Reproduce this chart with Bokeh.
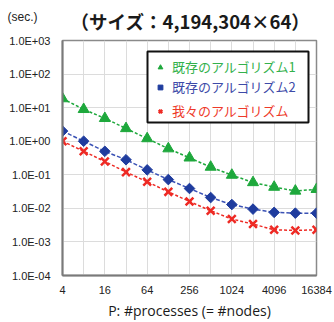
import numpy as np
from bokeh.plotting import figure
from bokeh.models import (FixedTicker, CustomJSTickFormatter, Legend, LegendItem,
                          Label, BoxAnnotation)
from bokeh.embed import file_html
from bokeh.resources import INLINE

# ---- data ----
procs = [4, 8, 16, 32, 64, 128, 256, 512, 1024, 2048, 4096, 8192, 16384]
algo1 = [18.6, 8.9, 4.8, 2.4, 1.2, 0.60, 0.32, 0.17, 0.098, 0.059, 0.043, 0.033, 0.037]
algo2 = [2.0, 1.0, 0.50, 0.28, 0.14, 0.072, 0.039, 0.021, 0.013, 0.0095, 0.0076, 0.0072, 0.0072]
ours = [1.0, 0.50, 0.25, 0.12, 0.062, 0.031, 0.016, 0.0085, 0.0048, 0.0034, 0.0023, 0.0022, 0.0023]
x_tick_values = [4, 16, 64, 256, 1024, 4096, 16384]
y_tick_values = [1e-4, 1e-3, 1e-2, 1e-1, 1, 10, 100, 1000]
series_labels = ["既存のアルゴリズム1", "既存のアルゴリズム2", "我々のアルゴリズム"]
title_text = "（サイズ：4,194,304×64）"
y_unit_text = "(sec.)"
x_title_text = "P: #processes (= #nodes)"

GREEN = "#1ea83c"
BLUE = "#1f3c9e"
BLUE_LINE = "#3b52b5"
RED = "#ee2a24"

p = figure(width=334, height=322, x_axis_type="log", y_axis_type="log",
           x_range=(4, 16384), y_range=(1e-4, 1e3),
           output_backend="svg", toolbar_location=None,
           min_border_left=62, min_border_right=18,
           min_border_top=40, min_border_bottom=47)

p.background_fill_color = "white"
p.border_fill_color = "white"
p.outline_line_color = "#8a8a8a"
p.outline_line_width = 1.5

# axes
p.xaxis.ticker = FixedTicker(ticks=x_tick_values, minor_ticks=[])
p.yaxis.ticker = FixedTicker(ticks=y_tick_values, minor_ticks=[])
p.xgrid.ticker = FixedTicker(ticks=procs, minor_ticks=[])
p.xaxis.formatter = CustomJSTickFormatter(code="return Math.round(tick).toString();")
p.yaxis.formatter = CustomJSTickFormatter(code="""
const e = Math.round(Math.log10(tick));
const s = e < 0 ? '-' : '+';
const a = Math.abs(e);
return '1.0E' + s + (a < 10 ? '0' : '') + a;
""")
for ax in (p.xaxis, p.yaxis):
    ax.major_tick_in = 0
    ax.major_tick_out = 0
    ax.minor_tick_in = 0
    ax.minor_tick_out = 0
    ax.axis_line_color = "#7a7a7a"
    ax.axis_line_width = 2
    ax.major_label_text_font = "Liberation Sans"
    ax.major_label_text_font_size = "11px"
    ax.major_label_text_color = "#222222"
p.yaxis.major_label_standoff = 12
p.xaxis.major_label_standoff = 10
p.xaxis.axis_label = x_title_text
p.xaxis.axis_label_standoff = 4
p.xaxis.axis_label_text_font = "Open Sans"
p.xaxis.axis_label_text_font_size = "14px"
p.xaxis.axis_label_text_font_style = "normal"
p.xaxis.axis_label_text_color = "#1a1a1a"

p.xgrid.grid_line_color = "#dcdcdc"
p.ygrid.grid_line_color = "#dcdcdc"
p.xgrid.grid_line_width = 1
p.ygrid.grid_line_width = 1

# series
p.line(procs, algo1, line_color=GREEN, line_dash="3 2", line_width=1.5)
r1 = p.scatter(procs, algo1, marker="triangle", size=11, color=GREEN)
p.line(procs, algo2, line_color=BLUE_LINE, line_dash="4 2", line_width=1.5)
r2 = p.scatter(procs, algo2, marker="square", angle=np.pi / 4, size=7.5, color=BLUE)
p.line(procs, ours, line_color=RED, line_dash="3 2", line_width=1.5)
r3 = p.scatter(procs, ours, marker="x", size=11, line_color=RED, line_width=2.5)

# legend box
box = BoxAnnotation(left=85, right=246, bottom=153, top=224,
                    left_units="screen", right_units="screen",
                    bottom_units="screen", top_units="screen",
                    fill_color="white", fill_alpha=1.0,
                    line_color="#111111", line_width=2, line_alpha=1.0)
p.add_layout(box)

legend_text_colors = ["#33b14c", "#3d4aa8", "#ee3a2a"]
rows_y = [199, 179, 155]
for lab, rend, col, yy in zip(series_labels, [r1, r2, r3], legend_text_colors, rows_y):
    lg = Legend(items=[LegendItem(label=lab, renderers=[rend])],
                location=(92, yy), margin=0, padding=0, spacing=0,
                glyph_width=12, glyph_height=16, label_height=16,
                label_standoff=6,
                label_text_font="Noto Sans CJK JP",
                label_text_font_size="13px",
                label_text_color=col,
                border_line_alpha=0, background_fill_alpha=0)
    p.add_layout(lg)

# title (closest panel above the frame) and unit label (next panel)
p.add_layout(Label(x=128, y=20, x_units="screen", y_units="screen",
                   text=title_text, text_align="center", text_baseline="middle",
                   text_font="Noto Sans CJK JP", text_font_size="18.5px",
                   text_font_style="bold", text_color="#1a1a1a"), "above")
p.add_layout(Label(x=-55, y=-2, x_units="screen", y_units="screen",
                   text=y_unit_text, text_align="left", text_baseline="middle",
                   text_font="Liberation Sans", text_font_size="12px",
                   text_color="#222222"), "above")

open("out.html", "w").write(file_html(p, INLINE))
